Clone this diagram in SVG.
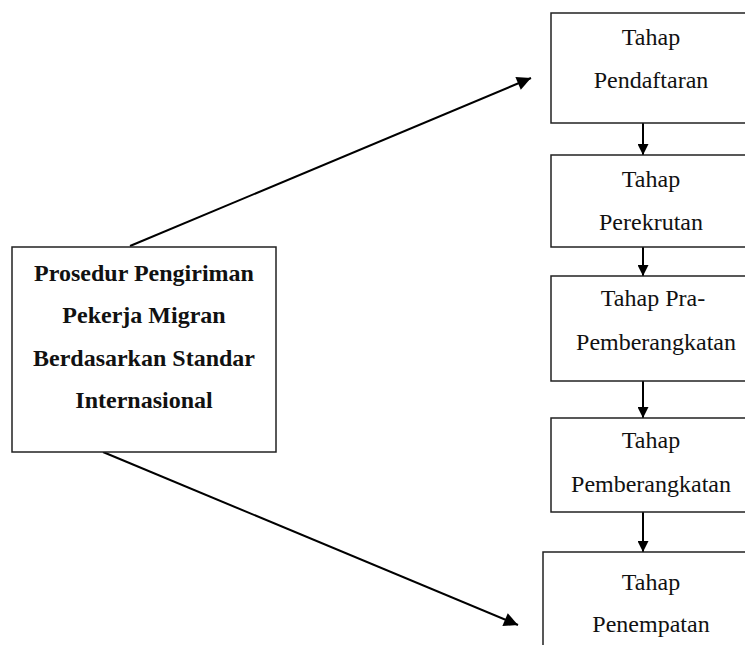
<svg xmlns="http://www.w3.org/2000/svg" width="745" height="645" viewBox="0 0 745 645">
<style>
.box{fill:#fff;stroke:#222;stroke-width:1.5}
.t{font-family:"Liberation Serif","Times New Roman",serif;font-size:24px;fill:#111;text-anchor:middle}
.b{font-family:"Liberation Serif","Times New Roman",serif;font-size:24px;font-weight:bold;fill:#111;text-anchor:middle}
.c{stroke:#000;stroke-width:2;fill:none}
</style>
<defs>
<marker id="ah" viewBox="0 0 10 10" refX="10" refY="5" markerWidth="12" markerHeight="11" markerUnits="userSpaceOnUse" orient="auto">
<path d="M0,0 L10,5 L0,10 z" fill="#000"/>
</marker>
<marker id="ab" viewBox="0 0 10 10" refX="10" refY="5" markerWidth="17" markerHeight="14" markerUnits="userSpaceOnUse" orient="auto">
<path d="M0,0 L10,5 L0,10 z" fill="#000"/>
</marker>
</defs>
<rect width="745" height="645" fill="#fff"/>
<g id="connectors">
<line class="c" x1="130" y1="246" x2="531" y2="78" marker-end="url(#ab)"/>
<line class="c" x1="103" y1="452" x2="518" y2="625" marker-end="url(#ab)"/>
<line class="c" x1="643" y1="123" x2="643" y2="155" marker-end="url(#ah)"/>
<line class="c" x1="643" y1="247" x2="643" y2="276" marker-end="url(#ah)"/>
<line class="c" x1="643" y1="381" x2="643" y2="418" marker-end="url(#ah)"/>
<line class="c" x1="643" y1="512" x2="643" y2="552" marker-end="url(#ah)"/>
</g>
<g id="main">
<rect class="box" x="12" y="247" width="264" height="205"/>
<text class="b" x="144" y="281">Prosedur Pengiriman</text>
<text class="b" x="144" y="323">Pekerja Migran</text>
<text class="b" x="144" y="366">Berdasarkan Standar</text>
<text class="b" x="144" y="408">Internasional</text>
</g>
<g id="pendaftaran">
<rect class="box" x="551" y="13" width="200" height="110"/>
<text class="t" x="651" y="45">Tahap</text>
<text class="t" x="651" y="88">Pendaftaran</text>
</g>
<g id="perekrutan">
<rect class="box" x="551" y="155" width="200" height="92"/>
<text class="t" x="651" y="187">Tahap</text>
<text class="t" x="651" y="230">Perekrutan</text>
</g>
<g id="pra">
<rect class="box" x="551" y="276" width="200" height="105"/>
<text class="t" x="653" y="306">Tahap Pra-</text>
<text class="t" x="656" y="350">Pemberangkatan</text>
</g>
<g id="pemberangkatan">
<rect class="box" x="551" y="418" width="200" height="94"/>
<text class="t" x="651" y="448">Tahap</text>
<text class="t" x="651" y="492">Pemberangkatan</text>
</g>
<g id="penempatan">
<rect class="box" x="543" y="552" width="210" height="110"/>
<text class="t" x="651" y="590">Tahap</text>
<text class="t" x="651" y="632">Penempatan</text>
</g>
</svg>
